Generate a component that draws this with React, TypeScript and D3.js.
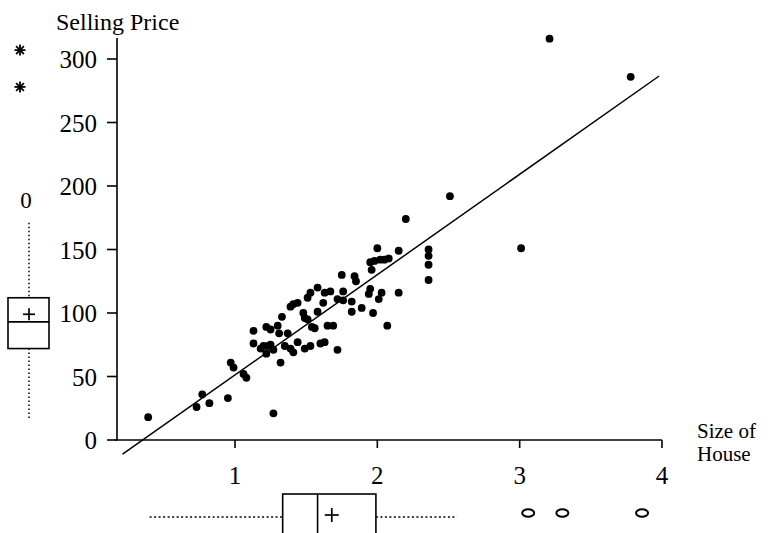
import React from "react";
import * as d3 from "d3";

// house size (1000 sq ft) vs selling price ($1000)
const sizes = [
  0.39, 0.73, 0.77, 0.82, 0.95, 0.97, 0.99, 1.06, 1.08, 1.13, 1.13, 1.18, 1.2, 1.22,
  1.23, 1.25, 1.27, 1.22, 1.25, 1.27, 1.32, 1.3, 1.31, 1.33, 1.37, 1.35, 1.39, 1.41,
  1.44, 1.39, 1.41, 1.44, 1.48, 1.49, 1.51, 1.54, 1.56, 1.49, 1.53, 1.51, 1.53, 1.58,
  1.58, 1.6, 1.63, 1.62, 1.63, 1.67, 1.65, 1.69, 1.72, 1.75, 1.76, 1.72, 1.76, 1.82,
  1.82, 1.84, 1.85, 1.89, 1.95, 1.94, 1.97, 1.96, 1.95, 1.98, 2.02, 2.05, 2.08, 2.0,
  2.03, 2.01, 2.07, 2.15, 2.15, 2.2, 2.36, 2.36, 2.36, 2.36, 2.51, 3.01, 3.21, 3.78,
];
const prices = [
  18, 26, 36, 29, 33, 61, 57, 52, 49, 86, 76, 72, 74, 68,
  74, 75, 71, 89, 87, 21, 61, 90, 84, 97, 84, 74, 72, 69,
  77, 105, 107, 108, 100, 96, 95, 89, 88, 72, 74, 112, 116, 120,
  101, 76, 77, 108, 116, 117, 90, 90, 71, 130, 117, 111, 110, 109,
  101, 129, 125, 104, 119, 115, 100, 134, 140, 141, 142, 142, 143, 151,
  116, 111, 90, 116, 149, 174, 150, 145, 138, 126, 192, 151, 316, 286,
];

// fitted line: price = a + b * size
const fitIntercept = -27.8;
const fitSlope = 79.0;
const fitRange = [0.21, 3.98];

// marginal box plots [low whisker, q1, median, q3, high whisker], mean
const priceBox = [17, 72, 93, 112, 171];
const priceMean = 99;
const priceMild = [189];
const priceExtreme = [307, 278];

const sizeBox = [0.4, 1.335, 1.58, 1.99, 2.56];
const sizeMean = 1.68;
const sizeMild = [3.06, 3.3, 3.86];

const xTicks = [1, 2, 3, 4];
const yTicks = [0, 50, 100, 150, 200, 250, 300];

const W = 772;
const H = 533;
const font = '"Liberation Serif", "DejaVu Serif", "Times New Roman", serif';

function Asterisk({ cx, cy, r }: { cx: number; cy: number; r: number }) {
  const arms = [0, 45, 90, 135];
  return (
    <g stroke="#000" strokeWidth={1.8}>
      {arms.map((a) => {
        const t = (a * Math.PI) / 180;
        return (
          <line
            key={a}
            x1={cx - r * Math.cos(t)}
            y1={cy - r * Math.sin(t)}
            x2={cx + r * Math.cos(t)}
            y2={cy + r * Math.sin(t)}
          />
        );
      })}
    </g>
  );
}

export default function App() {
  const x = d3.scaleLinear().domain([1, 4]).range([235, 662]);
  const y = d3.scaleLinear().domain([0, 300]).range([440, 59]);

  const axisX = 117;
  const axisY = y(0);

  const fitLine = d3
    .line<number>()
    .x((d) => x(d))
    .y((d) => y(fitIntercept + fitSlope * d))(fitRange);

  // left (price) box plot geometry
  const lb = { x0: 8, x1: 49, cx: 29 };
  // bottom (size) box plot geometry
  const bb = { y0: 494, y1: 545, cy: 517 };

  return (
    <div style={{ position: "absolute", left: 0, top: 0 }}>
      <svg width={W} height={H} style={{ display: "block", background: "#fff", fontFamily: font }}>
        {/* axes */}
        <line x1={axisX} y1={38} x2={axisX} y2={axisY} stroke="#000" strokeWidth={1.6} />
        <line x1={axisX - 2} y1={axisY} x2={x(4)} y2={axisY} stroke="#000" strokeWidth={1.6} />
        {yTicks.map((t) => (
          <g key={t}>
            <line x1={axisX - 10} y1={y(t)} x2={axisX} y2={y(t)} stroke="#000" strokeWidth={1.6} />
            <text x={97} y={y(t)} dy="0.36em" textAnchor="end" fontSize={25} fill="#000">
              {t}
            </text>
          </g>
        ))}
        {xTicks.map((t) => (
          <g key={t}>
            <line x1={x(t)} y1={axisY} x2={x(t)} y2={axisY + 8} stroke="#000" strokeWidth={1.6} />
            <text x={x(t)} y={484} textAnchor="middle" fontSize={25} fill="#000">
              {t}
            </text>
          </g>
        ))}
        <text x={56} y={30} fontSize={24}>
          Selling Price
        </text>
        <text x={697} y={438} fontSize={21}>
          Size of
        </text>
        <text x={697} y={461} fontSize={21}>
          House
        </text>

        {/* regression line */}
        <path d={fitLine ?? ""} fill="none" stroke="#000" strokeWidth={1.5} />

        {/* points */}
        {sizes.map((s, i) => (
          <circle key={i} cx={x(s)} cy={y(prices[i])} r={3.9} fill="#000" />
        ))}

        {/* price box plot on the left */}
        <g stroke="#000" fill="none">
          <line x1={lb.cx} x2={lb.cx} y1={y(priceBox[4])} y2={y(priceBox[3])} strokeWidth={1.5} strokeDasharray="1.5,2.5" />
          <line x1={lb.cx} x2={lb.cx} y1={y(priceBox[1])} y2={y(priceBox[0])} strokeWidth={1.5} strokeDasharray="1.5,2.5" />
          <rect x={lb.x0} y={y(priceBox[3])} width={lb.x1 - lb.x0} height={y(priceBox[1]) - y(priceBox[3])} strokeWidth={1.6} />
          <line x1={lb.x0} x2={lb.x1} y1={y(priceBox[2])} y2={y(priceBox[2])} strokeWidth={1.6} />
          <line x1={lb.cx - 6} x2={lb.cx + 6} y1={y(priceMean)} y2={y(priceMean)} strokeWidth={1.7} />
          <line x1={lb.cx} x2={lb.cx} y1={y(priceMean) - 6} y2={y(priceMean) + 6} strokeWidth={1.7} />
        </g>
        {priceMild.map((v, i) => (
          <text key={i} x={26} y={y(v)} dy="0.36em" textAnchor="middle" fontSize={23}>
            0
          </text>
        ))}
        {priceExtreme.map((v, i) => (
          <Asterisk key={i} cx={20} cy={y(v)} r={5.5} />
        ))}

        {/* size box plot at the bottom */}
        <g stroke="#000" fill="none">
          <line x1={x(sizeBox[0])} x2={x(sizeBox[1])} y1={bb.cy} y2={bb.cy} strokeWidth={1.3} strokeDasharray="2,2.5" />
          <line x1={x(sizeBox[3])} x2={x(sizeBox[4])} y1={bb.cy} y2={bb.cy} strokeWidth={1.3} strokeDasharray="2,2.5" />
          <rect x={x(sizeBox[1])} y={bb.y0} width={x(sizeBox[3]) - x(sizeBox[1])} height={bb.y1 - bb.y0} strokeWidth={1.6} />
          <line x1={x(sizeBox[2])} x2={x(sizeBox[2])} y1={bb.y0} y2={bb.y1} strokeWidth={1.6} />
          <line x1={x(sizeMean) - 7} x2={x(sizeMean) + 7} y1={515} y2={515} strokeWidth={1.7} />
          <line x1={x(sizeMean)} x2={x(sizeMean)} y1={508} y2={522} strokeWidth={1.7} />
          {sizeMild.map((v, i) => (
            <ellipse key={i} cx={x(v)} cy={513} rx={6} ry={3.8} strokeWidth={2} />
          ))}
        </g>
      </svg>
    </div>
  );
}
